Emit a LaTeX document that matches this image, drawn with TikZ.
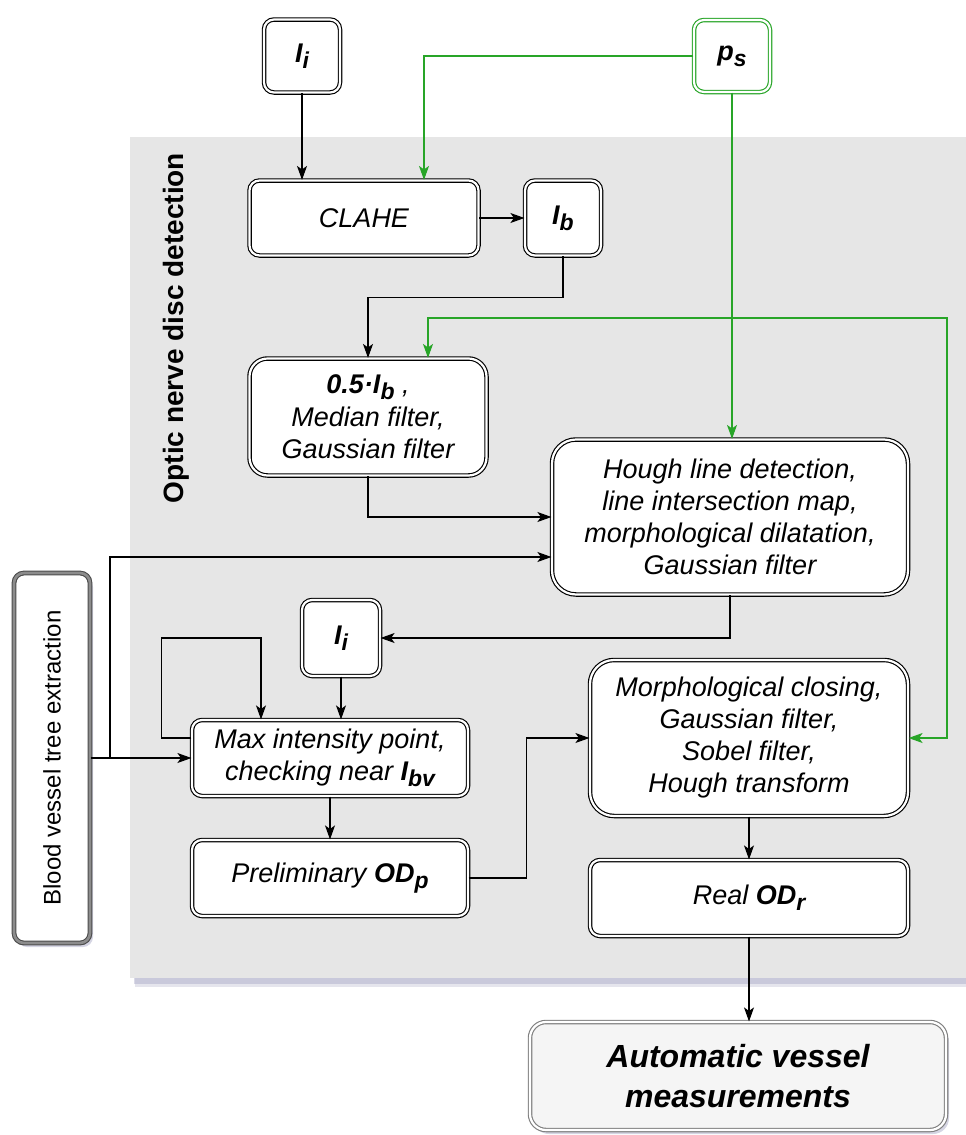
\documentclass[tikz,border=0pt]{standalone}
\usepackage{fontspec}
\setmainfont{Liberation Sans}
\usetikzlibrary{arrows.meta,shadows}
\definecolor{panelgray}{RGB}{230,230,230}
\definecolor{dgreen}{RGB}{40,165,40}
\definecolor{endfill}{RGB}{245,245,245}
\definecolor{shadowblue}{RGB}{150,150,185}
\newcommand{\subx}[1]{\raisebox{-0.22em}{\scalebox{0.85}{#1}}}
\newcommand{\boxfont}{\fontsize{27}{32}\selectfont\itshape}

\tikzset{
  box/.style={draw=black, double=white, double distance=2.2pt, line width=1.15pt,
    fill=white, rounded corners=10pt, align=center, font=\boxfont, inner sep=0pt},
  gbox/.style={box, draw=dgreen},
  arr/.style={-{Stealth[length=14pt,width=10pt,inset=3.5pt]}, line width=1.1pt, draw=black},
  garr/.style={arr, draw=dgreen, -{Stealth[length=14pt,width=10pt,inset=3.5pt,fill=dgreen]}},
  softshadow/.style={drop shadow={shadow xshift=3pt, shadow yshift=-4pt, opacity=0.4, fill=shadowblue}},
}

\begin{document}
\begin{tikzpicture}[x=1pt,y=-1pt]
\useasboundingbox (0,0) rectangle (966,1135);

% grey panel with a soft shadow
\fill[shadowblue, opacity=0.25] (135,141) rectangle (966,987);
\fill[shadowblue, opacity=0.35] (134,139) rectangle (966,984);
\fill[panelgray] (130,137) rectangle (966,978);
\node[rotate=90, font=\bfseries\fontsize{28}{28}\selectfont] (title) at (176,328) {Optic nerve disc detection};

% nodes
\node[box, minimum width=76pt, minimum height=73pt] (ii1) at (302,56) {\textbf{I\subx{i}}};
\node[gbox, minimum width=76pt, minimum height=72pt] (ps) at (732,56) {\textbf{p\subx{s}}};
\node[box, minimum width=229pt, minimum height=75pt] (clahe) at (364,218) {CLAHE};
\node[box, minimum width=76pt, minimum height=75pt] (ib) at (563,218) {\textbf{I\subx{b}}};
\node[box, rounded corners=18pt, minimum width=237pt, minimum height=117pt] (half) at (368,417)
  {\textbf{0.5·I\subx{b}} ,\\[1pt] Median filter,\\ Gaussian filter};
\node[box, rounded corners=24pt, minimum width=356pt, minimum height=155pt] (hough) at (730,517)
  {Hough line detection,\\ line intersection map,\\ morphological dilatation,\\ Gaussian filter};
\node[box, draw=black!70, double=black!45, double distance=2.6pt, line width=1.1pt, softshadow,
  minimum width=76pt, minimum height=370pt] (bv) at (52,758) {};
\node[rotate=90, font=\fontsize{24}{24}\selectfont] (bvtext) at (bv.center) {Blood vessel tree extraction};
\node[box, minimum width=78pt, minimum height=76pt] (ii2) at (341,638) {\textbf{I\subx{i}}};
\node[box, minimum width=276pt, minimum height=76pt] (maxb) at (330,758)
  {Max intensity point,\\ checking near \textbf{I\subx{bv}}};
\node[box, minimum width=276pt, minimum height=76pt] (prel) at (330,878) {Preliminary \textbf{OD\subx{p}}};
\node[box, rounded corners=24pt, minimum width=318pt, minimum height=156pt] (morph) at (749,738)
  {Morphological closing,\\ Gaussian filter,\\ Sobel filter,\\ Hough transform};
\node[box, minimum width=318pt, minimum height=76pt] (real) at (749,898) {Real \textbf{OD\subx{r}}};
\node[box, draw=black!50, fill=endfill, softshadow, rounded corners=16pt, minimum width=416pt, minimum height=108pt,
  font=\fontsize{32}{40}\selectfont\bfseries\itshape] (auto) at (738,1076) {Automatic vessel\\ measurements};

% helper points
\coordinate (gsplit) at (732,318);
\coordinate (gright) at (947,318);
\coordinate (bvj) at (110,758);
\coordinate (lp) at ([xshift=-69pt]maxb.north);

% black connectors
\draw[arr] (ii1.south) -- (ii1.south |- clahe.north);
\draw[arr] (clahe.east) -- (ib.west);
\draw[arr] (ib.south) -- ++(0,41) -| (half.north);
\draw[arr] (half.south) |- (hough.west);
\draw[arr] (bv.east) -- (maxb.west);
\draw[arr] (bvj) |- ([yshift=-40pt]hough.west);
\draw[arr] (hough.south) |- (ii2.east);
\draw[arr] (ii2.south) -- (ii2.south |- maxb.north);
\draw[arr] ([yshift=20pt]maxb.west) -- ++(-30,0) |- (lp |- ii2.center) -- (lp);
\draw[arr] (maxb.south) -- (prel.north);
\draw[arr] (prel.east) -- ++(58,0) |- (morph.west);
\draw[arr] (morph.south) -- (real.north);
\draw[arr] (real.south) -- (real.south |- auto.north);

% green connectors
\draw[garr] (ps.west) -| ([xshift=60pt]clahe.north);
\draw[garr] (ps.south) -- (ps.south |- hough.north);
\draw[garr] (gsplit) -| ([xshift=60pt]half.north);
\draw[garr] (gsplit) -- (gright) |- (morph.east);
\end{tikzpicture}
\end{document}
